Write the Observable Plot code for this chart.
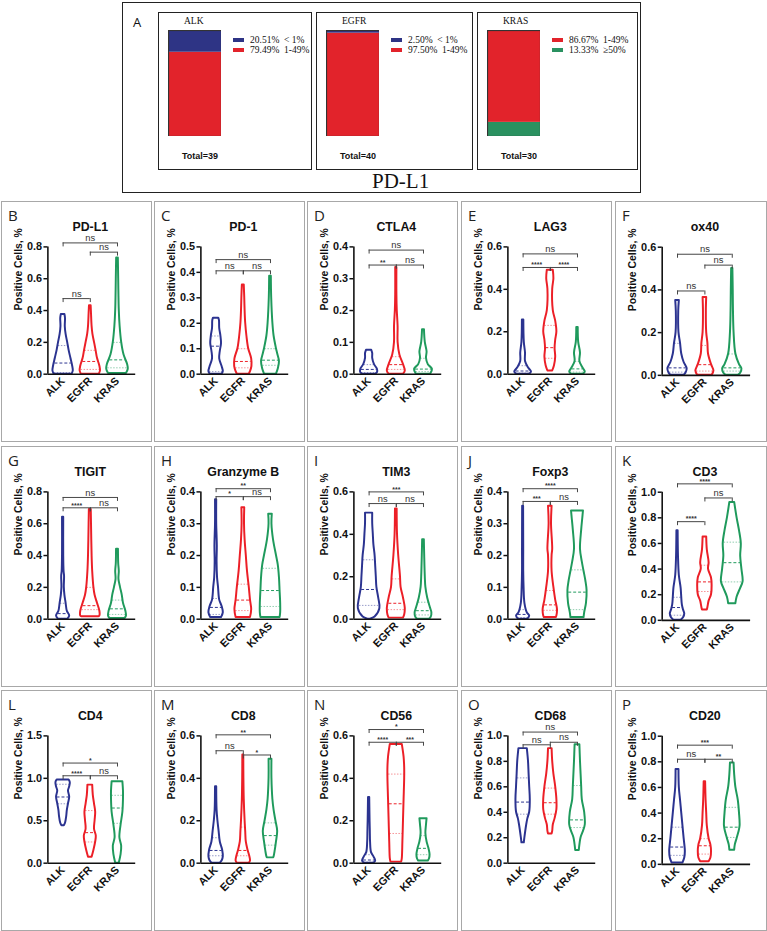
<!DOCTYPE html>
<html><head><meta charset="utf-8">
<script src="https://cdn.jsdelivr.net/npm/d3@7"></script>
<script src="https://cdn.jsdelivr.net/npm/@observablehq/plot@0.6"></script>
<style>
body{margin:0;background:#fff;}
#fig{position:relative;width:767px;height:931px;overflow:hidden;font-family:"Liberation Sans",Arial,sans-serif;background:#fff;}
.abs{position:absolute;}
.panel{position:absolute;border:1px solid #a8a8a8;box-sizing:border-box;background:#fff;}
.letter{position:absolute;left:6px;top:3px;font-family:"Open Sans",sans-serif;font-size:15px;color:#222;}
.box{position:absolute;border:1.5px solid #222;box-sizing:border-box;}
.serif{font-family:"Liberation Serif","Times New Roman",serif;}
.leg{position:absolute;font-family:"Liberation Serif",serif;font-size:9.5px;white-space:pre;line-height:10px;color:#111;}
.sw{position:absolute;width:11px;height:4px;}
.total{position:absolute;font-family:"Liberation Sans",Arial,sans-serif;font-weight:bold;font-size:9px;color:#111;}
</style></head><body><div id="fig"></div>
<script>
// ---------- Panel A data ----------
const pdl1Groups = ["ALK", "EGFR", "KRAS"];
const pdl1Totals = [39, 40, 30];
const pdl1Levels = ["< 1%", "1-49%", "≥50%"];
const pdl1LevelColors = ["#2e3485", "#e2232b", "#2a9160"];
const pdl1ALK = [20.51, 79.49, 0];
const pdl1EGFR = [2.50, 97.50, 0];
const pdl1KRAS = [0, 86.67, 13.33];

// ---------- Violin panels ----------
const groups = ["ALK", "EGFR", "KRAS"];
const groupColors = ["#2b3390", "#ec1f27", "#1f9a5c"];
const markers = ["PD-L1","PD-1","CTLA4","LAG3","ox40","TIGIT","Granzyme B","TIM3","Foxp3","CD3","CD4","CD8","CD56","CD68","CD20"];
const letters = ["B","C","D","E","F","G","H","I","J","K","L","M","N","O","P"];
const yMaxes = [0.8,0.5,0.4,0.6,0.6,0.8,0.4,0.6,0.4,1.0,1.5,0.6,0.6,1.0,1.0];
const ySteps = [0.2,0.1,0.1,0.2,0.2,0.2,0.1,0.2,0.1,0.2,0.5,0.2,0.2,0.2,0.2];

// density profiles: [value, relative half-width], per group ALK / EGFR / KRAS
const shape_PDL1 = [
  [[0,0.75],[0.02,0.85],[0.05,0.8],[0.1,0.65],[0.15,0.5],[0.2,0.38],[0.25,0.25],[0.3,0.18],[0.35,0.2],[0.375,0.15]],
  [[0,0.75],[0.02,0.85],[0.05,0.8],[0.1,0.6],[0.15,0.48],[0.2,0.35],[0.25,0.22],[0.3,0.15],[0.38,0.1],[0.43,0.07]],
  [[0.005,0.75],[0.03,0.9],[0.06,0.85],[0.12,0.55],[0.2,0.35],[0.3,0.22],[0.4,0.15],[0.5,0.12],[0.6,0.1],[0.73,0.07]]];
const quart_PDL1 = [[0.01,0.07,0.18],[0.03,0.08,0.15],[0.04,0.09,0.2]];
const sig_PDL1 = [[1,2,0.475,"ns"],[2,3,0.767,"ns"],[1,3,0.825,"ns"]];

const shape_PD1 = [
  [[0,0.5],[0.01,0.6],[0.03,0.5],[0.06,0.3],[0.09,0.35],[0.12,0.45],[0.15,0.4],[0.18,0.3],[0.21,0.28],[0.22,0.22]],
  [[0,0.5],[0.01,0.6],[0.03,0.72],[0.06,0.7],[0.1,0.45],[0.15,0.3],[0.2,0.2],[0.25,0.15],[0.3,0.12],[0.35,0.08]],
  [[0,0.5],[0.02,0.65],[0.05,0.75],[0.08,0.6],[0.1,0.5],[0.15,0.3],[0.2,0.2],[0.3,0.1],[0.385,0.07]]];
const quart_PD1 = [[0.01,0.11,0.15],[0.025,0.05,0.1],[0.035,0.055,0.1]];
const sig_PD1 = [[1,2,0.406,"ns"],[2,3,0.406,"ns"],[1,3,0.45,"ns"]];

const shape_CTLA4 = [
  [[0,0.55],[0.005,0.7],[0.015,0.7],[0.03,0.45],[0.05,0.3],[0.065,0.3],[0.075,0.22]],
  [[0,0.6],[0.01,0.75],[0.03,0.6],[0.06,0.3],[0.1,0.15],[0.15,0.15],[0.2,0.08],[0.25,0.05],[0.335,0.05]],
  [[0,0.6],[0.015,0.75],[0.03,0.4],[0.05,0.25],[0.07,0.3],[0.1,0.15],[0.14,0.08]]];
const quart_CTLA4 = [[0.005,0.015,0.03],[0.015,0.03,0.055],[0.008,0.016,0.05]];
const sig_CTLA4 = [[1,2,0.343,"**"],[2,3,0.343,"ns"],[1,3,0.39,"ns"]];

const shape_LAG3 = [
  [[0,0.55],[0.01,0.7],[0.03,0.45],[0.06,0.2],[0.1,0.2],[0.15,0.1],[0.255,0.06]],
  [[0.015,0.2],[0.04,0.35],[0.08,0.45],[0.12,0.4],[0.16,0.45],[0.2,0.55],[0.25,0.45],[0.3,0.25],[0.4,0.2],[0.45,0.3],[0.49,0.25]],
  [[0,0.5],[0.01,0.65],[0.03,0.45],[0.06,0.2],[0.1,0.25],[0.15,0.1],[0.22,0.06]]];
const quart_LAG3 = [[0.005,0.015,0.04],[0.075,0.125,0.23],[0.01,0.025,0.06]];
const sig_LAG3 = [[1,2,0.503,"****"],[2,3,0.503,"****"],[1,3,0.567,"ns"]];

const shape_OX40 = [
  [[0,0.55],[0.01,0.7],[0.03,0.8],[0.06,0.55],[0.1,0.35],[0.15,0.25],[0.2,0.12],[0.3,0.1],[0.35,0.15]],
  [[0,0.6],[0.02,0.75],[0.05,0.55],[0.1,0.3],[0.15,0.25],[0.2,0.15],[0.3,0.12],[0.365,0.15]],
  [[0,0.5],[0.01,0.7],[0.03,0.8],[0.05,0.6],[0.1,0.3],[0.2,0.15],[0.3,0.1],[0.4,0.08],[0.5,0.05]]];
const quart_OX40 = [[0.015,0.035,0.15],[0.02,0.05,0.14],[0.02,0.035,0.1]];
const sig_OX40 = [[1,2,0.395,"ns"],[2,3,0.516,"ns"],[1,3,0.567,"ns"]];

const shape_TIGIT = [
  [[0,0.4],[0.02,0.55],[0.05,0.35],[0.1,0.25],[0.15,0.15],[0.2,0.1],[0.27,0.12],[0.3,0.08],[0.4,0.05],[0.64,0.05]],
  [[0.015,0.7],[0.02,0.8],[0.05,0.8],[0.1,0.6],[0.15,0.4],[0.2,0.3],[0.3,0.2],[0.4,0.15],[0.6,0.1],[0.69,0.08]],
  [[0.005,0.65],[0.02,0.75],[0.05,0.7],[0.1,0.5],[0.15,0.4],[0.2,0.25],[0.25,0.12],[0.3,0.15],[0.35,0.1],[0.44,0.08]]];
const quart_TIGIT = [[0.005,0.035,0.1],[0.06,0.085,0.2],[0.03,0.065,0.12]];
const sig_TIGIT = [[1,2,0.70,"****"],[2,3,0.70,"ns"],[1,3,0.765,"ns"]];

const shape_GZMB = [
  [[0.005,0.45],[0.02,0.6],[0.04,0.5],[0.06,0.3],[0.1,0.2],[0.13,0.12],[0.18,0.08],[0.23,0.1],[0.3,0.05],[0.375,0.05]],
  [[0.005,0.6],[0.03,0.7],[0.06,0.6],[0.1,0.5],[0.15,0.35],[0.2,0.25],[0.25,0.15],[0.3,0.1],[0.35,0.12]],
  [[0.005,0.8],[0.02,0.85],[0.05,0.85],[0.09,0.8],[0.13,0.75],[0.17,0.65],[0.2,0.5],[0.25,0.25],[0.3,0.12],[0.33,0.15]]];
const quart_GZMB = [[0.015,0.037,0.065],[0.027,0.06,0.11],[0.04,0.09,0.16]];
const sig_GZMB = [[1,2,0.385,"*"],[2,3,0.385,"ns"],[1,3,0.41,"**"]];

const shape_TIM3 = [
  [[0,0.1],[0.01,0.5],[0.05,0.9],[0.1,0.8],[0.15,0.65],[0.2,0.6],[0.25,0.55],[0.3,0.5],[0.35,0.4],[0.4,0.35],[0.45,0.3],[0.5,0.3]],
  [[0.005,0.6],[0.02,0.7],[0.05,0.75],[0.1,0.6],[0.15,0.4],[0.2,0.35],[0.3,0.2],[0.4,0.1],[0.52,0.07]],
  [[0,0.5],[0.01,0.65],[0.03,0.7],[0.05,0.6],[0.1,0.35],[0.15,0.2],[0.2,0.15],[0.3,0.1],[0.375,0.07]]];
const quart_TIM3 = [[0.065,0.14,0.28],[0.045,0.075,0.19],[0.02,0.04,0.08]];
const sig_TIM3 = [[1,2,0.545,"ns"],[2,3,0.545,"ns"],[1,3,0.60,"***"]];

const shape_FOXP3 = [
  [[0,0.4],[0.01,0.55],[0.02,0.35],[0.05,0.15],[0.1,0.08],[0.15,0.05],[0.22,0.05],[0.355,0.04]],
  [[0.005,0.5],[0.01,0.55],[0.03,0.6],[0.06,0.45],[0.1,0.3],[0.15,0.15],[0.2,0.15],[0.22,0.2],[0.3,0.1],[0.355,0.15]],
  [[0.005,0.55],[0.02,0.6],[0.05,0.75],[0.09,0.8],[0.12,0.7],[0.15,0.55],[0.18,0.4],[0.22,0.25],[0.28,0.35],[0.32,0.45],[0.34,0.5]]];
const quart_FOXP3 = [[0.005,0.015,0.03],[0.028,0.045,0.09],[0.03,0.085,0.155]];
const sig_FOXP3 = [[1,2,0.37,"***"],[2,3,0.37,"ns"],[1,3,0.41,"****"]];

const shape_CD3 = [
  [[0,0.3],[0.02,0.5],[0.05,0.6],[0.08,0.5],[0.12,0.4],[0.18,0.35],[0.25,0.3],[0.35,0.15],[0.5,0.08],[0.7,0.05]],
  [[0.08,0.2],[0.1,0.25],[0.15,0.35],[0.2,0.55],[0.27,0.6],[0.33,0.55],[0.4,0.3],[0.45,0.35],[0.55,0.2],[0.65,0.15]],
  [[0.13,0.3],[0.18,0.4],[0.25,0.7],[0.3,0.9],[0.4,0.8],[0.5,0.7],[0.6,0.75],[0.7,0.6],[0.8,0.4],[0.92,0.2]]];
const quart_CD3 = [[0.04,0.1,0.18],[0.225,0.3,0.43],[0.3,0.45,0.61]];
const sig_CD3 = [[1,2,0.77,"****"],[2,3,0.955,"ns"],[1,3,1.065,"****"]];

const shape_CD4 = [
  [[0.44,0.1],[0.47,0.2],[0.55,0.3],[0.62,0.35],[0.7,0.45],[0.78,0.55],[0.85,0.45],[0.9,0.55],[0.95,0.6],[0.98,0.5]],
  [[0.07,0.15],[0.15,0.3],[0.25,0.45],[0.32,0.5],[0.4,0.35],[0.5,0.4],[0.6,0.45],[0.7,0.35],[0.8,0.25],[0.92,0.2]],
  [[0,0.15],[0.1,0.3],[0.2,0.35],[0.3,0.2],[0.45,0.3],[0.6,0.45],[0.75,0.5],[0.85,0.5],[0.96,0.45]]];
const quart_CD4 = [[0.7,0.78,0.93],[0.25,0.36,0.62],[0.47,0.65,0.8]];
const sig_CD4 = [[1,2,1.03,"****"],[2,3,1.03,"ns"],[1,3,1.18,"*"]];

const shape_CD8 = [
  [[0,0.35],[0.01,0.5],[0.03,0.6],[0.06,0.55],[0.1,0.35],[0.15,0.25],[0.2,0.15],[0.25,0.08],[0.36,0.05]],
  [[0,0.5],[0.01,0.6],[0.03,0.55],[0.06,0.4],[0.1,0.25],[0.15,0.2],[0.2,0.15],[0.3,0.08],[0.4,0.05],[0.51,0.04]],
  [[0.025,0.25],[0.03,0.3],[0.06,0.4],[0.1,0.5],[0.15,0.6],[0.2,0.45],[0.25,0.3],[0.3,0.2],[0.4,0.12],[0.49,0.12]]];
const quart_CD8 = [[0.035,0.06,0.12],[0.035,0.06,0.17],[0.085,0.13,0.19]];
const sig_CD8 = [[1,2,0.53,"ns"],[2,3,0.51,"*"],[1,3,0.605,"**"]];

const shape_CD56 = [
  [[0,0.4],[0.01,0.55],[0.03,0.4],[0.05,0.2],[0.1,0.12],[0.15,0.1],[0.2,0.08],[0.31,0.05]],
  [[0.005,0.45],[0.02,0.5],[0.1,0.55],[0.2,0.6],[0.3,0.65],[0.4,0.7],[0.45,0.7],[0.5,0.65],[0.56,0.5]],
  [[0.01,0.4],[0.02,0.5],[0.04,0.55],[0.07,0.45],[0.1,0.3],[0.14,0.2],[0.18,0.25],[0.21,0.3]]];
const quart_CD56 = [[0.005,0.015,0.04],[0.14,0.28,0.42],[0.04,0.07,0.13]];
const sig_CD56 = [[1,2,0.57,"****"],[2,3,0.57,"***"],[1,3,0.63,"*"]];

const shape_CD68 = [
  [[0.16,0.1],[0.2,0.15],[0.3,0.3],[0.35,0.4],[0.4,0.55],[0.5,0.6],[0.6,0.55],[0.7,0.5],[0.8,0.45],[0.9,0.35]],
  [[0.23,0.15],[0.25,0.2],[0.3,0.25],[0.35,0.4],[0.42,0.55],[0.5,0.55],[0.6,0.45],[0.7,0.3],[0.8,0.2],[0.9,0.15]],
  [[0.1,0.15],[0.2,0.3],[0.25,0.5],[0.3,0.65],[0.4,0.6],[0.5,0.4],[0.6,0.35],[0.7,0.3],[0.8,0.25],[0.93,0.2]]];
const quart_CD68 = [[0.385,0.48,0.67],[0.385,0.475,0.59],[0.28,0.34,0.61]];
const sig_CD68 = [[1,2,0.93,"ns"],[2,3,0.95,"ns"],[1,3,1.03,"ns"]];

const shape_CD20 = [
  [[0.01,0.45],[0.05,0.6],[0.1,0.65],[0.2,0.55],[0.3,0.45],[0.4,0.35],[0.5,0.25],[0.6,0.15],[0.74,0.12]],
  [[0.02,0.35],[0.05,0.5],[0.1,0.55],[0.15,0.5],[0.2,0.35],[0.3,0.2],[0.4,0.15],[0.5,0.1],[0.645,0.06]],
  [[0.11,0.2],[0.15,0.25],[0.2,0.4],[0.25,0.55],[0.3,0.65],[0.4,0.6],[0.5,0.5],[0.6,0.3],[0.7,0.2],[0.79,0.15]]];
const quart_CD20 = [[0.07,0.135,0.29],[0.08,0.145,0.2],[0.21,0.29,0.445]];
const sig_CD20 = [[1,2,0.82,"ns"],[2,3,0.82,"**"],[1,3,0.93,"***"]];

const panelShapes = [shape_PDL1,shape_PD1,shape_CTLA4,shape_LAG3,shape_OX40,shape_TIGIT,shape_GZMB,shape_TIM3,shape_FOXP3,shape_CD3,shape_CD4,shape_CD8,shape_CD56,shape_CD68,shape_CD20];
const panelQuarts = [quart_PDL1,quart_PD1,quart_CTLA4,quart_LAG3,quart_OX40,quart_TIGIT,quart_GZMB,quart_TIM3,quart_FOXP3,quart_CD3,quart_CD4,quart_CD8,quart_CD56,quart_CD68,quart_CD20];
const panelSigs = [sig_PDL1,sig_PD1,sig_CTLA4,sig_LAG3,sig_OX40,sig_TIGIT,sig_GZMB,sig_TIM3,sig_FOXP3,sig_CD3,sig_CD4,sig_CD8,sig_CD56,sig_CD68,sig_CD20];

// ---------- layout ----------
const fig = document.getElementById("fig");
function el(tag, cls, style, text) {
  const e = document.createElement(tag);
  if (cls) e.className = cls;
  if (style) Object.assign(e.style, style);
  if (text != null) e.textContent = text;
  return e;
}

// Panel A
fig.appendChild(el("div", "box", {left:"122px", top:"2px", width:"519px", height:"191px"}));
fig.appendChild(el("div", "abs", {left:"133px", top:"13px", fontSize:"13px", fontFamily:"'Open Sans',sans-serif", color:"#111"}, "A"));
fig.appendChild(el("div", "abs serif", {left:"372px", top:"169px", fontSize:"21px", color:"#111"}, "PD-L1"));

const pdl1Data = [pdl1ALK, pdl1EGFR, pdl1KRAS];
const innerBoxes = [[158,154],[316,157],[477,161]];
innerBoxes.forEach(([bx, bw], gi) => {
  const name = pdl1Groups[gi];
  const vals = pdl1Data[gi];
  fig.appendChild(el("div", "box", {left: bx+"px", top:"12px", width: bw+"px", height:"158px"}));
  fig.appendChild(el("div", "abs serif", {left:(bx+26)+"px", top:"16px", fontSize:"9.5px", color:"#111"}, name));
  const rows = [];
  [2,1,0].forEach(li => { if (vals[li] > 0) rows.push({g: name, level: pdl1Levels[li], v: vals[li]}); });
  const bar = Plot.plot({
    width: 53, height: 106, margin: 0,
    x: {domain: [name], axis: null, padding: 0},
    y: {domain: [0, 100], axis: null},
    color: {domain: pdl1Levels, range: pdl1LevelColors},
    marks: [
      Plot.barY(rows, {x: "g", y: "v", fill: "level"}),
      Plot.frame({stroke: "#333", strokeWidth: 1.2})
    ]
  });
  const holder = el("div", "abs", {left:(bx+10)+"px", top:"30px"});
  holder.appendChild(bar);
  fig.appendChild(holder);
  let k = 0;
  [0,1,2].forEach(li => {
    if (vals[li] <= 0) return;
    const ly = 38 + k*9.5;
    fig.appendChild(el("div", "sw", {left:(bx+75)+"px", top: ly+"px", background: pdl1LevelColors[li]}));
    fig.appendChild(el("div", "leg", {left:(bx+92)+"px", top:(ly-3)+"px"}, vals[li].toFixed(2) + "%  " + pdl1Levels[li]));
    k++;
  });
  fig.appendChild(el("div", "total", {left:(bx+24)+"px", top:"151px"}, "Total=" + pdl1Totals[gi]));
});

// Violin panels
const colLefts = [1, 154, 307, 461, 615];
const rowTops = [201, 446, 690];
const PW = 151, PH = 241;
const X0 = 0.44, X1 = 3.67, W = 0.44;

function widthAt(shape, y) {
  if (y <= shape[0][0]) return shape[0][1];
  for (let k = 1; k < shape.length; k++) {
    if (y <= shape[k][0]) {
      const [ya, wa] = shape[k-1], [yb, wb] = shape[k];
      return wa + (wb - wa) * (y - ya) / (yb - ya);
    }
  }
  return shape[shape.length-1][1];
}

markers.forEach((m, i) => {
  const r = Math.floor(i / 5), c = i % 5;
  const panel = el("div", "panel", {left: colLefts[c]+"px", top: rowTops[r]+"px", width: (c===4?152:PW)+"px", height: PH+"px"});
  fig.appendChild(panel);
  panel.appendChild(el("div", "letter", null, letters[i]));

  const yMax = yMaxes[i], step = ySteps[i];
  const plotH = 128;
  const tickLen = 4 * yMax / plotH;
  const marks = [];
  panelShapes[i].forEach((shape, gi) => {
    const ci = gi + 1;
    const rows = shape.map(([y, d]) => ({y, a: ci - d*W, b: ci + d*W}));
    marks.push(Plot.areaX(rows, {y: "y", x1: "a", x2: "b", curve: "catmull-rom", fill: "white", stroke: groupColors[gi], strokeWidth: 2}));
    const q = panelQuarts[i][gi];
    const qRows = q.map((v, qi) => {
      const w = widthAt(shape, v) * W * 0.92;
      return {y: v, a: ci - w, b: ci + w, med: qi === 1};
    });
    marks.push(Plot.ruleY(qRows.filter(d => !d.med), {y: "y", x1: "a", x2: "b", stroke: groupColors[gi], strokeWidth: 0.9, strokeOpacity: 0.55, strokeDasharray: "1.5,1.5"}));
    marks.push(Plot.ruleY(qRows.filter(d => d.med), {y: "y", x1: "a", x2: "b", stroke: groupColors[gi], strokeWidth: 1, strokeDasharray: "3,2"}));
  });
  marks.push(Plot.axisY({ticks: d3.range(0, yMax + step/2, step), tickFormat: d3.format(".1f"), tickSize: 4, tickPadding: 2, strokeWidth: 1.5, label: null}));
  marks.push(Plot.ruleX([X0], {y1: 0, y2: yMax, strokeWidth: 1.6}));
  marks.push(Plot.ruleY([0], {x1: X0, x2: X1, strokeWidth: 1.6}));
  marks.push(Plot.axisX({ticks: [1,2,3], tickFormat: v => groups[v-1], tickRotate: -45, tickSize: 0, tickPadding: 5, label: null}));
  marks.push(Plot.text(["Positive Cells, %"], {frameAnchor: "left", rotate: -90, dx: -30, fontSize: 10.5}));
  marks.push(Plot.text([m], {x: 2, frameAnchor: "top", dy: -25, fontSize: 12.5}));
  const sigs = panelSigs[i];
  marks.push(Plot.ruleY(sigs, {y: s => s[2], x1: s => s[0], x2: s => s[1], stroke: "#444", strokeWidth: 1}));
  const ends = sigs.flatMap(s => [{x: s[0], y: s[2]}, {x: s[1], y: s[2]}]);
  marks.push(Plot.ruleX(ends, {x: "x", y1: "y", y2: d => d.y - tickLen, stroke: "#444", strokeWidth: 1}));
  marks.push(Plot.text(sigs.filter(s => s[3] === "ns"), {x: s => (s[0]+s[1])/2, y: s => s[2], text: s => s[3], dy: -5, fontSize: 9.5, fontWeight: "normal", fill: "#333"}));
  marks.push(Plot.text(sigs.filter(s => s[3] !== "ns"), {x: s => (s[0]+s[1])/2, y: s => s[2], text: s => s[3], dy: -2.5, fontSize: 7, fontWeight: "bold", fill: "#333"}));

  const chart = Plot.plot({
    width: PW, height: PH - 2,
    marginLeft: 46, marginRight: 16, marginTop: 45, marginBottom: 65,
    x: {domain: [X0, X1], axis: null},
    y: {domain: [0, yMax], axis: null},
    style: {fontFamily: "'Liberation Sans', Arial, sans-serif", fontSize: "11px", fontWeight: "bold", color: "#111", background: "transparent", overflow: "visible"},
    marks
  });
  chart.style.position = "absolute";
  chart.style.left = "0px";
  chart.style.top = "0px";
  panel.appendChild(chart);
});
</script></body></html>
